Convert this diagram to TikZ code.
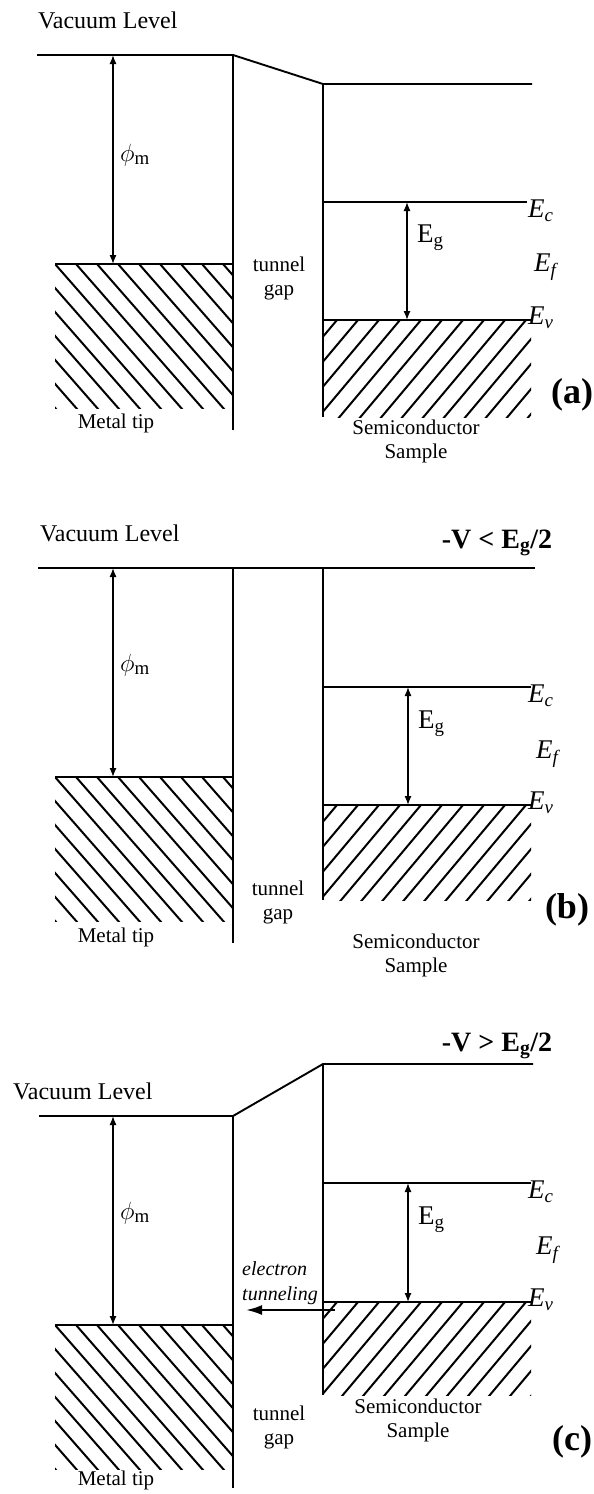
\documentclass[tikz,border=0pt]{standalone}
\usepackage{fontspec}
\setmainfont{Liberation Serif}
\usetikzlibrary{arrows.meta}

\tikzset{
  bandline/.style={line width=1.9pt},
  wall/.style={line width=1.6pt},
  hatchline/.style={line width=2pt},
  gaparrow/.style={line width=1.3pt, >={Latex[length=9pt,width=7pt]}, <->},
  tunarrow/.style={line width=2.2pt, -{Latex[length=16pt,width=10pt]}},
  txt/.style={font=\fontsize{21}{24}\selectfont, align=center, inner sep=0pt},
  vactxt/.style={font=\fontsize{24}{26}\selectfont, inner sep=0pt, anchor=west},
  cond/.style={font=\bfseries\fontsize{28}{30}\selectfont, inner sep=0pt},
  tag/.style={font=\bfseries\fontsize{36}{38}\selectfont, inner sep=0pt},
  en/.style={font=\fontsize{27}{29}\selectfont, inner sep=0pt, anchor=west}
}

\newcommand{\metalhatch}[1]{%
  \begin{scope}
    \clip (55,#1) rectangle (233,#1+144);
    \foreach \k in {-7,...,8}
      \draw[hatchline] (55+21*\k,#1) -- ++(170,194);
  \end{scope}}
\newcommand{\semihatch}[2]{%
  \begin{scope}
    \clip (323,#1) rectangle (531,#2);
    \foreach \k in {0,...,14}
      \draw[hatchline] (337+21*\k,#1) -- ++(-150,178.5);
  \end{scope}}

\begin{document}
\begin{tikzpicture}[x=1pt, y=-1pt]
  \useasboundingbox (0,0) rectangle (594,1494);

  % (a)
  \node[vactxt] (vacA) at (38,20) {Vacuum Level};
  \draw[bandline] (37,55) -- (233,55) -- (323,84) -- (532,84);
  \draw[wall] (233,55) -- (233,430);
  \draw[wall] (323,84) -- (323,417);
  \draw[bandline] (55,264) -- (233,264);
  \metalhatch{264}
  \draw[bandline] (323,202) -- (527,202);
  \draw[bandline] (323,320) -- (531,320);
  \semihatch{320}{417}
  \coordinate (phiA1) at (113,55);
  \coordinate (phiA2) at (113,264);
  \coordinate (egA1) at (407,202);
  \coordinate (egA2) at (407,320);
  \draw[gaparrow] (phiA1) -- (phiA2);
  \draw[gaparrow] (egA1) -- (egA2);
  \node[en] (phiA) at (120,155) {$\phi_{\mathrm{m}}$};
  \node[en] (egA) at (417,238) {E\textsubscript{g}};
  \node[en] (ecA) at (528,211) {\textit{E\textsubscript{c}}};
  \node[en] (efA) at (534,267) {\textit{E\textsubscript{f}}};
  \node[en] (evA) at (528,318) {\textit{E\textsubscript{v}}};
  \node[txt] (tipA) at (116,423) {Metal tip};
  \node[txt] (gapA) at (279,278) {tunnel\\gap};
  \node[txt] (semiA) at (416,441) {Semiconductor\\Sample};
  \node[tag] (tagA) at (572,395) {(a)};

  % (b)
  \node[vactxt] (vacB) at (40,533) {Vacuum Level};
  \node[cond] (condB) at (497,543) {-V < E\textsubscript{g}/2};
  \draw[bandline] (38,568) -- (535,568);
  \draw[wall] (233,568) -- (233,943);
  \draw[wall] (323,568) -- (323,900);
  \draw[bandline] (55,777) -- (233,777);
  \metalhatch{777}
  \draw[bandline] (323,687) -- (531,687);
  \draw[bandline] (323,805) -- (531,805);
  \semihatch{805}{900}
  \coordinate (phiB1) at (113,568);
  \coordinate (phiB2) at (113,777);
  \coordinate (egB1) at (408,687);
  \coordinate (egB2) at (408,805);
  \draw[gaparrow] (phiB1) -- (phiB2);
  \draw[gaparrow] (egB1) -- (egB2);
  \node[en] (phiB) at (120,665) {$\phi_{\mathrm{m}}$};
  \node[en] (egB) at (418,724) {E\textsubscript{g}};
  \node[en] (ecB) at (528,696) {\textit{E\textsubscript{c}}};
  \node[en] (efB) at (536,754) {\textit{E\textsubscript{f}}};
  \node[en] (evB) at (528,803) {\textit{E\textsubscript{v}}};
  \node[txt] (tipB) at (116,937) {Metal tip};
  \node[txt] (gapB) at (278,902) {tunnel\\gap};
  \node[txt] (semiB) at (416,955) {Semiconductor\\Sample};
  \node[tag] (tagB) at (567,910) {(b)};

  % (c)
  \node[cond] (condC) at (497,1046) {-V > E\textsubscript{g}/2};
  \node[vactxt] (vacC) at (13,1091) {Vacuum Level};
  \draw[bandline] (39,1116) -- (233,1116) -- (323,1064) -- (533,1064);
  \draw[wall] (233,1116) -- (233,1488);
  \draw[wall] (323,1064) -- (323,1395);
  \draw[bandline] (55,1325) -- (233,1325);
  \metalhatch{1325}
  \draw[bandline] (323,1183) -- (531,1183);
  \draw[bandline] (323,1302) -- (531,1302);
  \semihatch{1302}{1395}
  \coordinate (phiC1) at (113,1116);
  \coordinate (phiC2) at (113,1325);
  \coordinate (egC1) at (408,1183);
  \coordinate (egC2) at (408,1302);
  \draw[gaparrow] (phiC1) -- (phiC2);
  \draw[gaparrow] (egC1) -- (egC2);
  \node[en] (phiC) at (120,1213) {$\phi_{\mathrm{m}}$};
  \node[en] (egC) at (418,1220) {E\textsubscript{g}};
  \node[en] (ecC) at (528,1192) {\textit{E\textsubscript{c}}};
  \node[en] (efC) at (536,1250) {\textit{E\textsubscript{f}}};
  \node[en] (evC) at (528,1300) {\textit{E\textsubscript{v}}};
  \node[txt, align=left, anchor=west, font=\itshape\fontsize{20}{25}\selectfont] (tunC) at (242,1283) {electron\\tunneling};
  \coordinate (tunC1) at (335,1310);
  \coordinate (tunC2) at (246,1310);
  \draw[tunarrow] (tunC1) -- (tunC2);
  \node[txt] (tipC) at (116,1480) {Metal tip};
  \node[txt] (gapC) at (279,1427) {tunnel\\gap};
  \node[txt] (semiC) at (418,1420) {Semiconductor\\Sample};
  \node[tag] (tagC) at (572,1442) {(c)};
\end{tikzpicture}
\end{document}
